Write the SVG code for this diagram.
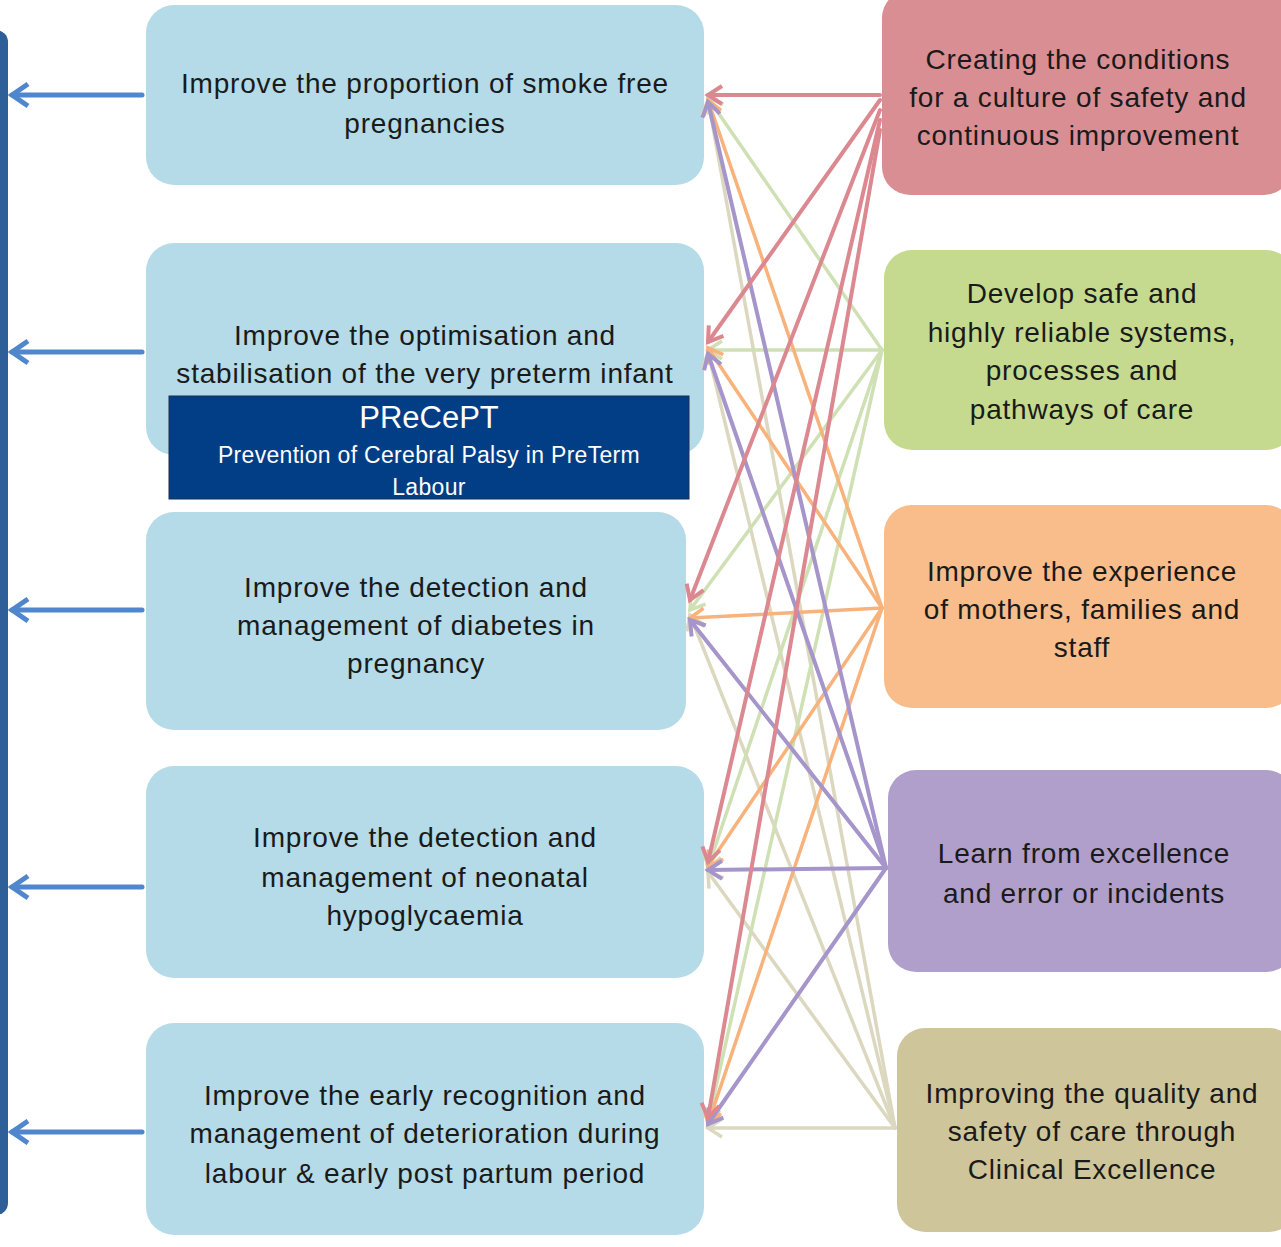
<svg xmlns="http://www.w3.org/2000/svg" width="1281" height="1247" viewBox="0 0 1281 1247">
<defs>
<style>
.t{font-family:"Liberation Sans",Arial,sans-serif;font-size:28px;letter-spacing:0.8px;fill:#1a1a1a;text-anchor:middle}
.w{font-family:"Liberation Sans",Arial,sans-serif;fill:#ffffff;text-anchor:middle}
.ln{fill:none;stroke-linecap:round}
.r{stroke:#dc8890;stroke-width:4}
.g{stroke:#cfe0b4;stroke-width:3.5}
.o{stroke:#f8b27c;stroke-width:3.5}
.p{stroke:#a595cb;stroke-width:4}
.k{stroke:#dcd8c0;stroke-width:3.5}
.b{stroke:#4f86cc;stroke-width:5}
</style>
<marker id="mr" markerUnits="userSpaceOnUse" orient="auto" overflow="visible" markerWidth="20" markerHeight="20"><path d="M-14,-9 L0,0 L-14,9" fill="none" stroke="#dc8890" stroke-width="4"/></marker>
<marker id="mg" markerUnits="userSpaceOnUse" orient="auto" overflow="visible" markerWidth="20" markerHeight="20"><path d="M-14,-9 L0,0 L-14,9" fill="none" stroke="#cfe0b4" stroke-width="3.5"/></marker>
<marker id="mo" markerUnits="userSpaceOnUse" orient="auto" overflow="visible" markerWidth="20" markerHeight="20"><path d="M-14,-9 L0,0 L-14,9" fill="none" stroke="#f8b27c" stroke-width="3.5"/></marker>
<marker id="mp" markerUnits="userSpaceOnUse" orient="auto" overflow="visible" markerWidth="20" markerHeight="20"><path d="M-14,-9 L0,0 L-14,9" fill="none" stroke="#a595cb" stroke-width="4"/></marker>
<marker id="mk" markerUnits="userSpaceOnUse" orient="auto" overflow="visible" markerWidth="20" markerHeight="20"><path d="M-14,-9 L0,0 L-14,9" fill="none" stroke="#dcd8c0" stroke-width="3.5"/></marker>
<marker id="mb" markerUnits="userSpaceOnUse" orient="auto" overflow="visible" markerWidth="20" markerHeight="20"><path d="M-16,-11 L0,0 L-16,11" fill="none" stroke="#4f86cc" stroke-width="5"/></marker>
</defs>
<rect width="1281" height="1247" fill="#ffffff"/>

<g id="left-bar"><rect x="-20" y="30" width="28" height="1185" rx="12" fill="#2f5f98"/></g>

<g id="node-l1"><rect x="146" y="5" width="558" height="180" rx="28" fill="#b4dbe7"/>
<text class="t" x="425" y="93">Improve the proportion of smoke free</text>
<text class="t" x="425" y="133">pregnancies</text></g>
<g id="node-l2"><rect x="146" y="243" width="558" height="212" rx="28" fill="#b4dbe7"/>
<text class="t" x="425" y="345">Improve the optimisation and</text>
<text class="t" x="425" y="383">stabilisation of the very preterm infant</text></g>
<g id="node-l3"><rect x="146" y="512" width="540" height="218" rx="28" fill="#b4dbe7"/>
<text class="t" x="416" y="597">Improve the detection and</text>
<text class="t" x="416" y="635">management of diabetes in</text>
<text class="t" x="416" y="673">pregnancy</text></g>
<g id="node-l4"><rect x="146" y="766" width="558" height="212" rx="28" fill="#b4dbe7"/>
<text class="t" x="425" y="847">Improve the detection and</text>
<text class="t" x="425" y="887">management of neonatal</text>
<text class="t" x="425" y="925">hypoglycaemia</text></g>
<g id="node-l5"><rect x="146" y="1023" width="558" height="212" rx="28" fill="#b4dbe7"/>
<text class="t" x="425" y="1105">Improve the early recognition and</text>
<text class="t" x="425" y="1143">management of deterioration during</text>
<text class="t" x="425" y="1183">labour &amp; early post partum period</text></g>

<g id="node-precept"><rect x="169" y="396" width="520" height="103" fill="#023e86" stroke="#1b2f55" stroke-width="1"/>
<text class="w" x="429" y="428" font-size="31">PReCePT</text>
<text class="w" x="429" y="463" font-size="23" letter-spacing="0.3">Prevention of Cerebral Palsy in PreTerm</text>
<text class="w" x="429" y="495" font-size="23" letter-spacing="0.3">Labour</text></g>

<g id="node-r1"><rect x="882" y="-10" width="410" height="205" rx="28" fill="#d98e93"/>
<text class="t" x="1078" y="69">Creating the conditions</text>
<text class="t" x="1078" y="107">for a culture of safety and</text>
<text class="t" x="1078" y="145">continuous improvement</text></g>
<g id="node-r2"><rect x="884" y="250" width="410" height="200" rx="28" fill="#c5da8f"/>
<text class="t" x="1082" y="303">Develop safe and</text>
<text class="t" x="1082" y="342">highly reliable systems,</text>
<text class="t" x="1082" y="380">processes and</text>
<text class="t" x="1082" y="419">pathways of care</text></g>
<g id="node-r3"><rect x="884" y="505" width="410" height="203" rx="28" fill="#f8bd8b"/>
<text class="t" x="1082" y="581">Improve the experience</text>
<text class="t" x="1082" y="619">of mothers, families and</text>
<text class="t" x="1082" y="657">staff</text></g>
<g id="node-r4"><rect x="888" y="770" width="406" height="202" rx="28" fill="#b09fca"/>
<text class="t" x="1084" y="863">Learn from excellence</text>
<text class="t" x="1084" y="903">and error or incidents</text></g>
<g id="node-r5"><rect x="897" y="1028" width="400" height="204" rx="28" fill="#cfc59b"/>
<text class="t" x="1092" y="1103">Improving the quality and</text>
<text class="t" x="1092" y="1141">safety of care through</text>
<text class="t" x="1092" y="1179">Clinical Excellence</text></g>

<g id="connectors">
<g class="ln k">
<line x1="895" y1="1128" x2="708" y2="100" marker-end="url(#mk)"/>
<line x1="895" y1="1128" x2="708" y2="352" marker-end="url(#mk)"/>
<line x1="895" y1="1128" x2="690" y2="615" marker-end="url(#mk)"/>
<line x1="895" y1="1128" x2="708" y2="872" marker-end="url(#mk)"/>
<line x1="895" y1="1128" x2="708" y2="1128" marker-end="url(#mk)"/>
</g>
<g class="ln g">
<line x1="882" y1="350" x2="708" y2="98" marker-end="url(#mg)"/>
<line x1="882" y1="350" x2="708" y2="350" marker-end="url(#mg)"/>
<line x1="882" y1="350" x2="690" y2="610" marker-end="url(#mg)"/>
<line x1="882" y1="350" x2="708" y2="868" marker-end="url(#mg)"/>
<line x1="882" y1="350" x2="708" y2="1122" marker-end="url(#mg)"/>
</g>
<g class="ln o">
<line x1="882" y1="608" x2="708" y2="100" marker-end="url(#mo)"/>
<line x1="882" y1="608" x2="708" y2="348" marker-end="url(#mo)"/>
<line x1="882" y1="608" x2="690" y2="618" marker-end="url(#mo)"/>
<line x1="882" y1="608" x2="708" y2="866" marker-end="url(#mo)"/>
<line x1="882" y1="608" x2="708" y2="1124" marker-end="url(#mo)"/>
</g>
<g class="ln p">
<line x1="886" y1="868" x2="708" y2="102" marker-end="url(#mp)"/>
<line x1="886" y1="868" x2="708" y2="354" marker-end="url(#mp)"/>
<line x1="886" y1="868" x2="690" y2="620" marker-end="url(#mp)"/>
<line x1="886" y1="868" x2="708" y2="870" marker-end="url(#mp)"/>
<line x1="886" y1="868" x2="708" y2="1124" marker-end="url(#mp)"/>
</g>
<g class="ln r">
<line x1="880" y1="95" x2="708" y2="95" marker-end="url(#mr)"/>
<line x1="880" y1="100" x2="708" y2="342" marker-end="url(#mr)"/>
<line x1="880" y1="110" x2="690" y2="600" marker-end="url(#mr)"/>
<line x1="880" y1="120" x2="708" y2="862" marker-end="url(#mr)"/>
<line x1="880" y1="130" x2="708" y2="1118" marker-end="url(#mr)"/>
</g>
<g class="ln b">
<line x1="142" y1="95" x2="12" y2="95" marker-end="url(#mb)"/>
<line x1="142" y1="352" x2="12" y2="352" marker-end="url(#mb)"/>
<line x1="142" y1="610" x2="12" y2="610" marker-end="url(#mb)"/>
<line x1="142" y1="887" x2="12" y2="887" marker-end="url(#mb)"/>
<line x1="142" y1="1132" x2="12" y2="1132" marker-end="url(#mb)"/>
</g>
</g>
</svg>
